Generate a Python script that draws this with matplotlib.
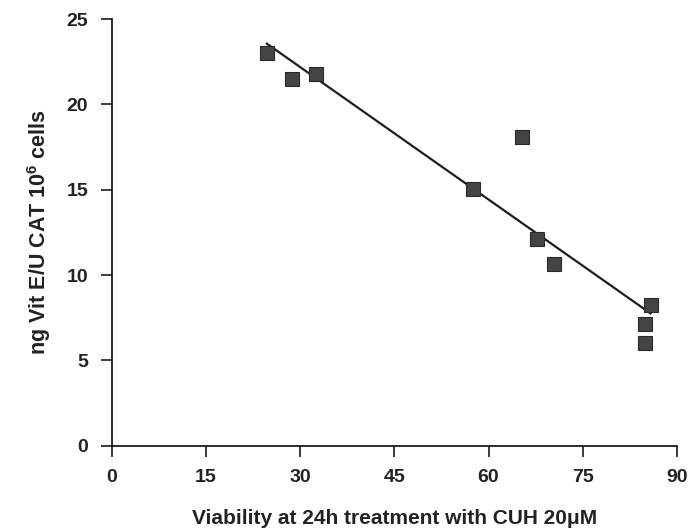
import numpy as np
import matplotlib
matplotlib.use("Agg")
import matplotlib.pyplot as plt

plt.rcParams["font.family"] = ["Liberation Sans", "DejaVu Sans"]
plt.rcParams["mathtext.default"] = "regular"

# viability (%) vs vitamin E uptake
viability = [24.7, 28.7, 32.6, 57.6, 65.4, 67.7, 70.5, 85.8, 84.9, 84.9]
vit_e = [23.0, 21.5, 21.8, 15.05, 18.1, 12.1, 10.65, 8.25, 7.15, 6.0]

x_ticks = [0, 15, 30, 45, 60, 75, 90]
y_ticks = [0, 5, 10, 15, 20, 25]


def main():
    fig = plt.figure(figsize=(6.9, 5.32), dpi=100)
    ax = fig.add_axes([0.162, 0.162, 0.819, 0.802])

    x = np.array(viability)
    y = np.array(vit_e)
    slope, icpt = np.polyfit(x, y, 1)
    xs = np.array([x.min(), x.max()])
    ax.plot(xs, slope * xs + icpt, color="#1e1e1e", lw=1.6, zorder=2)

    ax.plot(x, y, ls="none", marker="s", ms=10, mfc="#444444",
            mec="#2a2a2a", mew=0.8, zorder=3)

    ax.set_xlim(0, 90)
    ax.set_ylim(0, 25)
    ax.set_xticks(x_ticks)
    ax.set_yticks(y_ticks)
    for s in ("top", "right"):
        ax.spines[s].set_visible(False)
    for s in ("left", "bottom"):
        ax.spines[s].set_linewidth(1.3)
        ax.spines[s].set_color("#1a1a1a")
    ax.tick_params(direction="out", length=8, width=1.2, colors="#1a1a1a",
                   labelsize=14, pad=9)
    for lab in ax.get_xticklabels() + ax.get_yticklabels():
        lab.set_color("#222222")
        lab.set_fontweight("bold")

    ax.set_xlabel("Viability at 24h treatment with CUH 20\u03bcM",
                  fontsize=15, fontweight="bold", color="#222222", labelpad=16)
    ax.set_ylabel("ng Vit E/U CAT 10$^{6}$ cells",
                  fontsize=15.5, fontweight="bold", color="#222222", labelpad=10)

    fig.savefig("out.png", dpi=100)


if __name__ == "__main__":
    main()
